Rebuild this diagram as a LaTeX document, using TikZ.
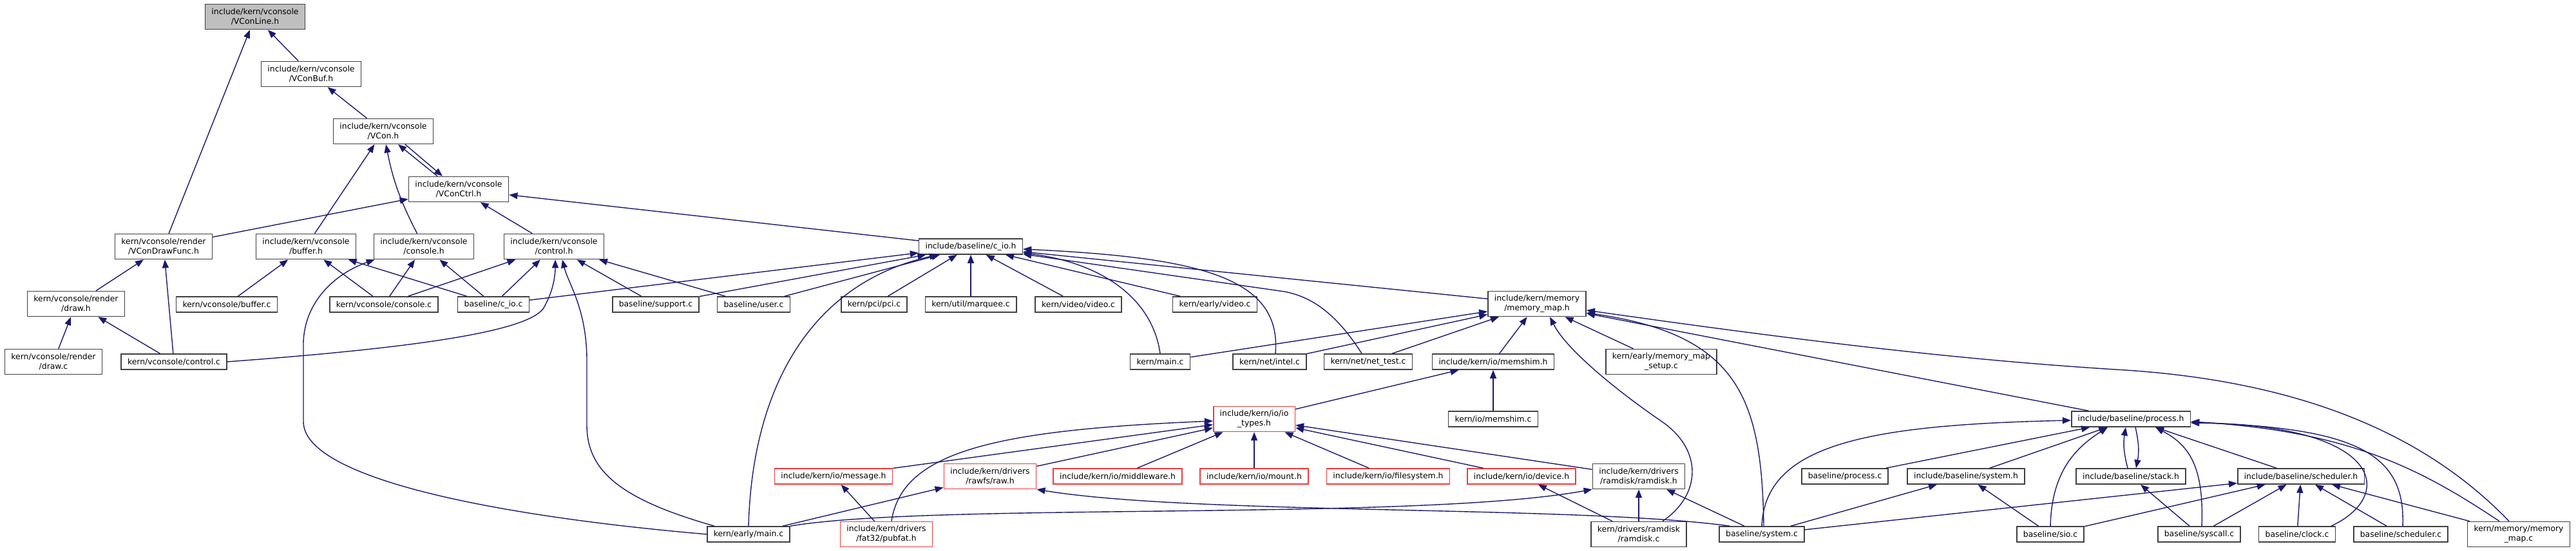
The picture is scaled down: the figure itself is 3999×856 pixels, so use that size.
\documentclass[tikz,border=0pt]{standalone}
\usepackage{fontspec}
\setmainfont{DejaVu Sans}
\usetikzlibrary{arrows.meta,calc}
\definecolor{DoxEdge}{HTML}{191970}
\definecolor{DoxBorder}{HTML}{404040}
\definecolor{DoxRed}{HTML}{F03A3A}
\definecolor{DoxRoot}{HTML}{BFBFBF}
\tikzset{
  filebox/.style={draw=DoxBorder, line width=1.6pt, fill=white, align=center, font=\fontsize{12.4}{15}\selectfont, inner xsep=10pt, inner ysep=2pt, minimum height=24pt},
  twobox/.style={filebox, minimum height=39pt},
  rootbox/.style={twobox, fill=DoxRoot},
  redbox/.style={filebox, draw=DoxRed},
  redtwobox/.style={twobox, draw=DoxRed},
  arr/.style={-{Triangle[length=13pt,width=10pt]}, line width=1.4pt, draw=DoxEdge}
}
\begin{document}
\begin{tikzpicture}[x=1pt,y=-1pt]
\useasboundingbox (0,0) rectangle (3999,856);
\node[rootbox] (vconline) at (396,26) {include/kern/vconsole\\/VConLine.h};
\node[twobox] (vconbuf) at (483,115) {include/kern/vconsole\\/VConBuf.h};
\node[twobox] (vcon) at (595,204) {include/kern/vconsole\\/VCon.h};
\node[twobox] (vconctrl) at (712,294) {include/kern/vconsole\\/VConCtrl.h};
\node[twobox] (drawfunc) at (254,383) {kern/vconsole/render\\/VConDrawFunc.h};
\node[twobox] (bufferh) at (475,383) {include/kern/vconsole\\/buffer.h};
\node[twobox] (consoleh) at (658,383) {include/kern/vconsole\\/console.h};
\node[twobox] (controlh) at (860,383) {include/kern/vconsole\\/control.h};
\node[filebox] (cioh) at (1507,383) {include/baseline/c\_io.h};
\node[twobox] (drawh) at (118,472) {kern/vconsole/render\\/draw.h};
\node[filebox] (bufferc) at (352,473) {kern/vconsole/buffer.c};
\node[filebox] (consolec) at (596,473) {kern/vconsole/console.c};
\node[filebox] (cioc) at (766,473) {baseline/c\_io.c};
\node[filebox] (supportc) at (1018,473) {baseline/support.c};
\node[filebox] (userc) at (1170,473) {baseline/user.c};
\node[filebox] (pcic) at (1357,473) {kern/pci/pci.c};
\node[filebox] (marqueec) at (1507,473) {kern/util/marquee.c};
\node[filebox] (videoc) at (1674,473) {kern/video/video.c};
\node[filebox] (evideoc) at (1886,473) {kern/early/video.c};
\node[twobox] (memmaph) at (2386,472) {include/kern/memory\\/memory\_map.h};
\node[twobox] (drawc) at (83,562) {kern/vconsole/render\\/draw.c};
\node[filebox] (controlc) at (270,562) {kern/vconsole/control.c};
\node[filebox] (kmainc) at (1801,562) {kern/main.c};
\node[filebox] (intelc) at (1971,562) {kern/net/intel.c};
\node[filebox] (nettestc) at (2124,562) {kern/net/net\_test.c};
\node[filebox] (memshimh) at (2318,562) {include/kern/io/memshim.h};
\node[twobox] (mmsetupc) at (2579,562) {kern/early/memory\_map\\\_setup.c};
\node[redtwobox] (iotypesh) at (1947,651) {include/kern/io/io\\\_types.h};
\node[filebox] (memshimc) at (2318,651) {kern/io/memshim.c};
\node[filebox] (processh) at (3308,651) {include/baseline/process.h};
\node[redbox] (messageh) at (1294,740) {include/kern/io/message.h};
\node[redtwobox] (rawh) at (1537,740) {include/kern/drivers\\/rawfs/raw.h};
\node[redbox] (middlewareh) at (1735,740) {include/kern/io/middleware.h};
\node[redbox] (mounth) at (1947,740) {include/kern/io/mount.h};
\node[redbox] (filesystemh) at (2155,740) {include/kern/io/filesystem.h};
\node[redbox] (deviceh) at (2362,740) {include/kern/io/device.h};
\node[twobox] (ramdiskh) at (2544,740) {include/kern/drivers\\/ramdisk/ramdisk.h};
\node[filebox] (processc) at (2864,740) {baseline/process.c};
\node[filebox] (systemh) at (3052,740) {include/baseline/system.h};
\node[filebox] (stackh) at (3308,740) {include/baseline/stack.h};
\node[filebox] (schedh) at (3572,740) {include/baseline/scheduler.h};
\node[filebox] (emainc) at (1162,830) {kern/early/main.c};
\node[redtwobox] (pubfath) at (1376,830) {include/kern/drivers\\/fat32/pubfat.h};
\node[twobox] (ramdiskc) at (2544,830) {kern/drivers/ramdisk\\/ramdisk.c};
\node[filebox] (systemc) at (2735,830) {baseline/system.c};
\node[filebox] (sioc) at (3183,830) {baseline/sio.c};
\node[filebox] (syscallc) at (3414,830) {baseline/syscall.c};
\node[filebox] (clockc) at (3566,830) {baseline/clock.c};
\node[filebox] (schedc) at (3727,830) {baseline/scheduler.c};
\node[twobox] (mmapc) at (3910,830) {kern/memory/memory\\\_map.c};
\draw[arr] (vconbuf) -- (vconline);
\draw[arr] (drawfunc) -- (vconline);
\draw[arr] (vcon) -- (vconbuf);
\draw[arr] ($(vconctrl.north)+(-33,0)$) -- ($(vcon.south)+(23,0)$);
\draw[arr] ($(vcon.south)+(34,0)$) -- ($(vconctrl.north)+(-25,0)$);
\draw[arr] (bufferh) -- (vcon);
\draw[arr] (consoleh) to[bend left=8] (vcon);
\draw[arr] (drawfunc) -- (vconctrl);
\draw[arr] (controlh) -- (vconctrl);
\draw[arr] (cioh) -- (vconctrl);
\draw[arr] (drawh) -- (drawfunc);
\draw[arr] (controlc) -- (drawfunc);
\draw[arr] (drawc) -- (drawh);
\draw[arr] (controlc) -- (drawh);
\draw[arr] (bufferc) -- (bufferh);
\draw[arr] (consolec) -- (bufferh);
\draw[arr] (cioc) -- (bufferh);
\draw[arr] (consolec) -- (consoleh);
\draw[arr] (cioc) -- (consoleh);
\draw[arr] (emainc.west) .. controls (750,800) and (471,740) .. (471,655) -- (471,535) .. controls (471,470) and (520,425) .. ($(consoleh.south west)+(2,0)$);
\draw[arr] (consolec) -- (controlh);
\draw[arr] (cioc) -- (controlh);
\draw[arr] (controlc.east) .. controls (650,540) and (815,515) .. (843,480) .. controls (858,455) and (862,430) .. ($(controlh.south)+(2,0)$);
\draw[arr] ($(emainc.north west)+(12,0)$) .. controls (960,775) and (911,730) .. (911,660) -- (911,560) .. controls (911,480) and (882,440) .. ($(controlh.south)+(13,0)$);
\draw[arr] (supportc) -- (controlh);
\draw[arr] (userc) -- (controlh);
\draw[arr] (cioc) -- (cioh);
\draw[arr] (supportc) -- (cioh);
\draw[arr] (userc) -- (cioh);
\draw[arr] (emainc.north) .. controls (1168,600) and (1260,440) .. ($(cioh.south west)+(30,0)$);
\draw[arr] (pcic) -- (cioh);
\draw[arr] (marqueec) -- (cioh);
\draw[arr] (videoc) -- (cioh);
\draw[arr] (evideoc) -- (cioh);
\draw[arr] (kmainc.north) .. controls (1790,470) and (1720,410) .. ($(cioh.south east)+(0,-3)$);
\draw[arr] ($(intelc.north)+(9,0)$) .. controls (1990,430) and (1860,400) .. ($(cioh.east)+(0,4)$);
\draw[arr] ($(nettestc.north)+(-10,0)$) .. controls (2070,480) and (2030,460) .. (1994,453) -- ($(cioh.south east)+(0,-1)$);
\draw[arr] (memmaph) -- (cioh);
\draw[arr] (kmainc) -- (memmaph);
\draw[arr] (intelc) -- (memmaph);
\draw[arr] (nettestc) -- (memmaph);
\draw[arr] (memshimh) -- (memmaph);
\draw[arr] (mmsetupc) -- (memmaph);
\draw[arr] ($(ramdiskc.north east)+(-38,0)$) .. controls (2640,770) and (2645,700) .. (2580,655) .. controls (2500,600) and (2430,540) .. ($(memmaph.south)+(20,0)$);
\draw[arr] ($(systemc.north)+(3,0)$) .. controls (2735,620) and (2700,520) .. ($(memmaph.east)+(0,14)$);
\draw[arr] (processh) -- (memmaph);
\draw[arr] ($(mmapc.north)+(-15,0)$) .. controls (3780,690) and (3600,595) .. (3300,575) .. controls (3050,560) and (2800,530) .. ($(memmaph.east)+(0,10)$);
\draw[arr] (iotypesh) -- (memshimh);
\draw[arr] (memshimc) -- (memshimh);
\draw[arr] (messageh) -- (iotypesh);
\draw[arr] ($(pubfath.north)+(8,0)$) .. controls (1400,700) and (1550,668) .. ($(iotypesh.west)+(0,3)$);
\draw[arr] (rawh) -- (iotypesh);
\draw[arr] (middlewareh) -- (iotypesh);
\draw[arr] (mounth) -- (iotypesh);
\draw[arr] (filesystemh) -- (iotypesh);
\draw[arr] (deviceh) -- (iotypesh);
\draw[arr] (ramdiskh) -- (iotypesh);
\draw[arr] (emainc) -- (rawh);
\draw[arr] ($(systemc.north west)+(17,0)$) .. controls (2450,785) and (1850,800) .. (rawh.south east);
\draw[arr] (pubfath) -- (messageh);
\draw[arr] (emainc.north east) .. controls (1450,780) and (2200,810) .. (ramdiskh.south west);
\draw[arr] (ramdiskc) -- (ramdiskh);
\draw[arr] (systemc) -- (ramdiskh);
\draw[arr] (ramdiskc) -- (deviceh);
\draw[arr] (systemc.north) .. controls (2740,690) and (2900,660) .. ($(processh.west)+(0,2)$);
\draw[arr] (processc) -- (processh);
\draw[arr] (systemh) -- (processh);
\draw[arr] (sioc.north) .. controls (3185,740) and (3215,700) .. ($(processh.south)+(-36,0)$);
\draw[arr] ($(stackh.north)+(-5,0)$) to[bend left=12] ($(processh.south)+(-8,0)$);
\draw[arr] ($(processh.south)+(7,0)$) to[bend left=12] ($(stackh.north)+(8,0)$);
\draw[arr] ($(syscallc.north)+(4,0)$) .. controls (3422,720) and (3395,690) .. ($(processh.south east)+(-55,0)$);
\draw[arr] (schedh) -- (processh);
\draw[arr] ($(clockc.north)+(53,0)$) .. controls (3720,770) and (3700,660) .. ($(processh.east)+(0,6)$);
\draw[arr] ($(schedc.north)+(3,0)$) .. controls (3735,700) and (3650,665) .. ($(processh.east)+(0,5)$);
\draw[arr] ($(mmapc.north)+(-30,0)$) .. controls (3760,730) and (3650,670) .. ($(processh.east)+(0,4)$);
\draw[arr] (systemc) -- (systemh);
\draw[arr] (sioc) -- (systemh);
\draw[arr] (syscallc) -- (stackh);
\draw[arr] (systemc) -- (schedh);
\draw[arr] (sioc) -- (schedh);
\draw[arr] (syscallc) -- (schedh);
\draw[arr] (clockc) -- (schedh);
\draw[arr] (schedc) -- (schedh);
\draw[arr] (mmapc) -- (schedh);
\end{tikzpicture}
\end{document}
